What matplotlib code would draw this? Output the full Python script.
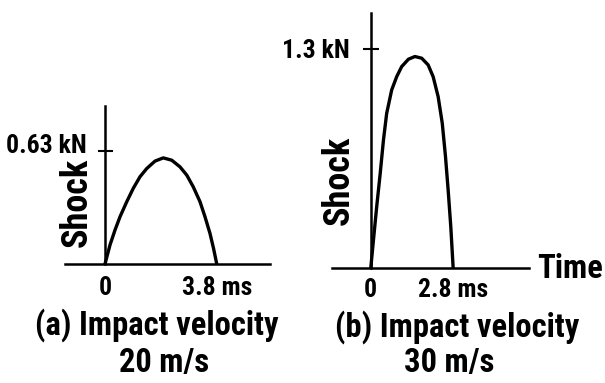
import matplotlib
matplotlib.use('Agg')
import matplotlib.pyplot as plt
from matplotlib.transforms import blended_transform_factory as blend

plt.rcParams['font.family'] = ['Roboto Condensed', 'Liberation Sans']
plt.rcParams['font.weight'] = 'bold'

# (a) impact velocity 20 m/s -- time in ms, shock in kN
t_a = [0.0, 0.17, 0.34, 0.51, 0.74, 0.96, 1.19, 1.42, 1.70, 1.98,
       2.27, 2.55, 2.78, 3.00, 3.23, 3.40, 3.57, 3.69, 3.80]
f_a = [0.0, 0.106, 0.189, 0.263, 0.347, 0.421, 0.486, 0.532, 0.573, 0.591,
       0.578, 0.541, 0.495, 0.430, 0.347, 0.263, 0.170, 0.087, 0.0]

# (b) impact velocity 30 m/s
t_b = [0.0, 0.09, 0.20, 0.32, 0.43, 0.54, 0.71, 0.88, 1.05, 1.28, 1.50,
       1.73, 1.95, 2.12, 2.29, 2.43, 2.54, 2.63, 2.72, 2.80]
f_b = [0.0, 0.165, 0.363, 0.562, 0.760, 0.919, 1.058, 1.137, 1.197, 1.241, 1.257,
       1.247, 1.207, 1.137, 1.018, 0.860, 0.661, 0.463, 0.244, 0.0]

peak_a = 0.63
peak_b = 1.3
dur_a = 3.8
dur_b = 2.8
captions = ['(a) Impact velocity', '(b) Impact velocity']
speeds = ['20 m/s', '30 m/s']

W, H = 605, 383
fig = plt.figure(figsize=(W / 100, H / 100), dpi=100)


def fy(y):
    return 1 - y / H


def fx(x):
    return x / W


def panel(rect, t, f, xlim, ylim, peak, dur, tick_len, peak_lbl, lbl_pos,
          shock_pos, base_y):
    ax = fig.add_axes(rect)
    ax.plot(t, f, color='black', lw=2.4, solid_capstyle='round')
    ax.set_xlim(xlim)
    ax.set_ylim(ylim)
    for s in ['top', 'right']:
        ax.spines[s].set_visible(False)
    ax.spines['left'].set_position(('data', 0))
    ax.spines['left'].set_linewidth(1.8)
    ax.spines['bottom'].set_linewidth(1.8)
    ax.set_xticks([])
    ax.set_yticks([peak], labels=[''])
    ax.tick_params(axis='y', direction='inout', length=tick_len, width=1.5)
    ax.patch.set_visible(False)

    fig.text(fx(lbl_pos[0]), fy(lbl_pos[1]), peak_lbl, ha='right', va='center',
             fontsize=18.5)
    fig.text(fx(shock_pos[0]), fy(shock_pos[1]), 'Shock', rotation=90,
             ha='center', va='center', fontsize=26)
    tr = blend(ax.transData, fig.transFigure)
    ax.text(0, fy(base_y), '0', transform=tr, ha='center', va='baseline',
            fontsize=18.5)
    ax.text(dur, fy(base_y), f'{dur} ms', transform=tr, ha='center',
            va='baseline', fontsize=18.5)
    return ax


panel([fx(65), fy(264), fx(270) - fx(65), fy(106) - fy(264)],
      t_a, f_a, (-1.36, 5.61), (0, 0.88), peak_a, dur_a, 10.8,
      '0.63 kN', (87, 146), (77, 202), 295)
panel([fx(332), fy(267.7), fx(529) - fx(332), fy(13) - fy(267.7)],
      t_b, f_b, (-1.32, 5.38), (0, 1.516), peak_b, dur_b, 12,
      '1.3 kN', (350, 51), (339, 180), 297)

fig.text(fx(157), fy(335), captions[0], ha='center', va='baseline', fontsize=23.5)
fig.text(fx(164), fy(372), speeds[0], ha='center', va='baseline', fontsize=23.5)
fig.text(fx(457), fy(337), captions[1], ha='center', va='baseline', fontsize=23.5)
fig.text(fx(449), fy(372), speeds[1], ha='center', va='baseline', fontsize=23.5)
fig.text(fx(570), fy(278), 'Time', ha='center', va='baseline', fontsize=23.5)

fig.savefig('out.png', dpi=100)
